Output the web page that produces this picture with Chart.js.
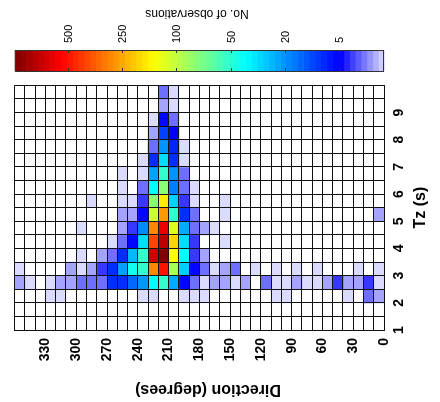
<!DOCTYPE html>
<html>
<head>
<meta charset="utf-8">
<title>Tz against direction</title>
<script src="https://cdn.jsdelivr.net/npm/chart.js@4.4.1/dist/chart.umd.min.js"></script>
<style>
  html, body { margin: 0; padding: 0; background: #fff; }
  canvas { display: block; }
</style>
</head>
<body>
<canvas id="chart" width="440" height="402"></canvas>
<script>
// lower edges of the direction bins (degrees) and Tz bins (s)
const directions = [0, 10, 20, 30, 40, 50, 60, 70, 80, 90, 100, 110, 120, 130, 140, 150, 160, 170,
  180, 190, 200, 210, 220, 230, 240, 250, 260, 270, 280, 290, 300, 310, 320, 330, 340, 350]
const tzBins = [1, 1.5, 2, 2.5, 3, 3.5, 4, 4.5, 5, 5.5, 6, 6.5, 7, 7.5, 8, 8.5, 9, 9.5]
const dirBinWidth = 10
const tzBinWidth = 0.5

// No. of observations, one row per Tz bin, columns in the order of directions
const counts = [
  [0,0,0,0,0,0,0,0,0,0, 0,0,0,0,0,0,0,0,0,0, 0,0,0,0,0,0,0,0,0,0, 0,0,0,0,0,0], // 1.0
  [0,0,0,0,0,0,0,0,0,0, 0,0,0,0,0,0,0,0,0,0, 0,0,0,0,0,0,0,0,0,0, 0,0,0,0,0,0], // 1.5
  [2,3,0,1,0,0,0,0,0,1, 1,0,0,0,0,0,0,1,1,1, 0,0,1,1,0,0,0,0,0,0, 0,1,1,0,0,0], // 2.0
  [1,4,2,2,4,2,1,1,2,1, 1,3,0,2,1,2,2,1,3,6, 25,53,42,21,16,10,10,3,3,3, 2,2,1,0,1,2], // 2.5
  [1,0,1,0,0,0,1,0,1,0, 1,0,1,0,3,2,1,3,6,32, 92,500,306,53,45,23,10,4,2,1, 2,0,0,0,0,1], // 3.0
  [0,0,0,0,0,0,0,0,0,0, 0,0,0,0,0,0,0,2,4,42, 164,790,640,53,28,10,3,2,0,1, 0,0,0,0,0,0], // 3.5
  [0,0,0,0,0,0,0,0,0,0, 0,0,0,0,0,1,0,0,4,35, 207,675,418,35,6,3,1,0,0,0, 0,0,0,0,0,0], // 4.0
  [0,0,0,0,0,0,0,0,0,0, 0,0,0,0,0,0,1,2,3,25, 131,575,306,19,4,2,0,0,0,1, 0,0,0,0,0,0], // 4.5
  [2,0,0,0,0,0,0,0,0,0, 0,0,0,0,0,1,0,0,3,10, 53,277,113,6,2,2,0,0,0,0, 0,0,0,0,0,0], // 5.0
  [0,0,0,0,0,0,0,0,0,0, 0,0,0,0,0,1,0,0,1,4, 32,181,82,4,1,1,0,0,1,0, 0,0,0,0,0,0], // 5.5
  [0,0,0,0,0,0,0,0,0,0, 0,0,0,0,0,0,0,0,1,3, 18,82,42,3,0,1,0,0,0,0, 0,0,0,0,0,0], // 6.0
  [0,0,0,0,0,0,0,0,0,0, 0,0,0,0,0,0,0,0,0,3, 20,53,23,1,0,1,0,0,0,0, 0,0,0,0,0,0], // 6.5
  [0,0,0,0,0,0,0,0,0,0, 0,0,0,0,0,0,0,0,0,1, 10,35,10,1,0,0,0,0,0,0, 0,0,0,0,0,0], // 7.0
  [0,0,0,0,0,0,0,0,0,0, 0,0,0,0,0,0,0,0,0,1, 9,20,3,0,0,0,0,0,0,0, 0,0,0,0,0,0], // 7.5
  [0,0,0,0,0,0,0,0,0,0, 0,0,0,0,0,0,0,0,0,0, 5,12,2,0,0,0,0,0,0,0, 0,0,0,0,0,0], // 8.0
  [0,0,0,0,0,0,0,0,0,0, 0,0,0,0,0,0,0,0,0,0, 3,6,1,0,0,0,0,0,0,0, 0,0,0,0,0,0], // 8.5
  [0,0,0,0,0,0,0,0,0,0, 0,0,0,0,0,0,0,0,0,0, 1,2,0,0,0,0,0,0,0,0, 0,0,0,0,0,0], // 9.0
  [0,0,0,0,0,0,0,0,0,0, 0,0,0,0,0,0,0,0,0,0, 1,3,0,0,0,0,0,0,0,0, 0,0,0,0,0,0]  // 9.5
]

const dirTicks = [0, 30, 60, 90, 120, 150, 180, 210, 240, 270, 300, 330]
const tzTicks = [1, 2, 3, 4, 5, 6, 7, 8, 9]
const colorTicks = [500, 250, 100, 50, 20, 5]

// colour axis: count -> position (0..1) along the colour bar
const levelValues = [1, 5, 20, 50, 100, 250, 500, 800]
const levelPos = [0, 0.121, 0.268, 0.415, 0.562, 0.709, 0.856, 1]

function toPos(v) {
  if (v <= levelValues[0]) return 0
  for (let i = 1; i < levelValues.length; i++) {
    if (v <= levelValues[i]) {
      const f = (v - levelValues[i - 1]) / (levelValues[i] - levelValues[i - 1])
      return levelPos[i - 1] + f * (levelPos[i] - levelPos[i - 1])
    }
  }
  return 1
}

const clamp = x => Math.min(1, Math.max(0, x))

// jet, with the darkest blues replaced by a fade to lavender
function colorAt(t) {
  let r, g, b
  if (t < levelPos[1]) {
    const f = t / levelPos[1]
    r = g = 0.86 * (1 - f)
    b = 1
  } else {
    r = clamp(Math.min(4 * t - 1.5, -4 * t + 4.5))
    g = clamp(Math.min(4 * t - 0.5, -4 * t + 3.5))
    b = clamp(Math.min(4 * t + 0.5, -4 * t + 2.5))
  }
  return `rgb(${Math.round(r * 255)},${Math.round(g * 255)},${Math.round(b * 255)})`
}

const cells = []
tzBins.forEach((tz, r) => {
  directions.forEach((d, c) => {
    const v = counts[r][c]
    if (v > 0) cells.push({ x: d + dirBinWidth / 2, y: [tz, tz + tzBinWidth], v: v })
  })
})

const FONT = '"Liberation Sans", Arial, Helvetica, sans-serif'
Chart.defaults.font.family = FONT
Chart.defaults.color = '#000'

function rotatedText(ctx, text, x, y, angle, align) {
  ctx.save()
  ctx.translate(x, y)
  ctx.rotate(angle)
  ctx.textAlign = align
  ctx.textBaseline = 'middle'
  ctx.fillText(text, 0, 0)
  ctx.restore()
}

const decorations = {
  id: 'decorations',
  afterDraw(chart) {
    const { ctx, chartArea: a, scales } = chart
    ctx.save()

    // colour bar
    const top = 50, bottom = 71, n = 64
    const w = (a.right - a.left) / n
    for (let i = 0; i < n; i++) {
      ctx.fillStyle = colorAt((i + 0.5) / n)
      ctx.fillRect(a.right - (i + 1) * w, top, w + 0.6, bottom - top)
    }
    ctx.strokeStyle = '#333'
    ctx.lineWidth = 1
    ctx.strokeRect(Math.round(a.left) + 0.5, top + 0.5, Math.round(a.right - a.left) - 1, bottom - top)

    ctx.fillStyle = '#000'
    ctx.font = '11px ' + FONT
    colorTicks.forEach(v => {
      const px = Math.round(a.right - toPos(v) * (a.right - a.left)) + 0.5
      ctx.beginPath()
      ctx.moveTo(px, top)
      ctx.lineTo(px, top + 3)
      ctx.moveTo(px, bottom)
      ctx.lineTo(px, bottom - 3)
      ctx.stroke()
      rotatedText(ctx, String(v), px, 43, -Math.PI / 2, 'left')
    })
    ctx.font = '12px ' + FONT
    rotatedText(ctx, 'No. of observations', 197, 13, Math.PI, 'center')

    // Tz axis labels on the right
    ctx.font = 'bold 14px ' + FONT
    tzTicks.forEach(v => {
      rotatedText(ctx, String(v), a.right + 15, scales.y.getPixelForValue(v), -Math.PI / 2, 'center')
    })
    ctx.font = 'bold 16px ' + FONT
    rotatedText(ctx, 'Tz (s)', a.right + 37, (a.top + a.bottom) / 2, -Math.PI / 2, 'center')
    rotatedText(ctx, 'Direction (degrees)', 208, 389, Math.PI, 'center')

    ctx.restore()
  }
}

new Chart(document.getElementById('chart'), {
  type: 'bar',
  data: {
    datasets: [{
      label: 'No. of observations',
      data: cells,
      backgroundColor: c => colorAt(toPos(c.raw.v)),
      borderWidth: 0,
      barPercentage: 1,
      categoryPercentage: 1,
      grouped: false
    }]
  },
  options: {
    responsive: false,
    animation: false,
    devicePixelRatio: 1,
    layout: { padding: { left: 14.7, top: 85.3, right: 0, bottom: 0 } },
    plugins: {
      legend: { display: false },
      tooltip: { enabled: false }
    },
    scales: {
      x: {
        type: 'linear',
        reverse: true,
        min: 0,
        max: 360,
        offset: false,
        grid: { color: '#111', lineWidth: 1, drawTicks: false, offset: false, z: 1 },
        border: { color: '#111', z: 2 },
        ticks: {
          stepSize: 10,
          autoSkip: false,
          minRotation: 90,
          maxRotation: 90,
          padding: 8,
          font: { size: 14, weight: 'bold' },
          callback: v => dirTicks.includes(v) ? String(v) : ''
        },
        afterFit: s => { s.height = 72 }
      },
      y: {
        type: 'linear',
        position: 'right',
        min: 1,
        max: 10,
        grid: { color: '#111', lineWidth: 1, drawTicks: false, z: 1 },
        border: { color: '#111', z: 2 },
        ticks: { stepSize: 0.5, display: false },
        afterFit: s => { s.width = 56 }
      }
    }
  },
  plugins: [decorations]
})
</script>
</body>
</html>
